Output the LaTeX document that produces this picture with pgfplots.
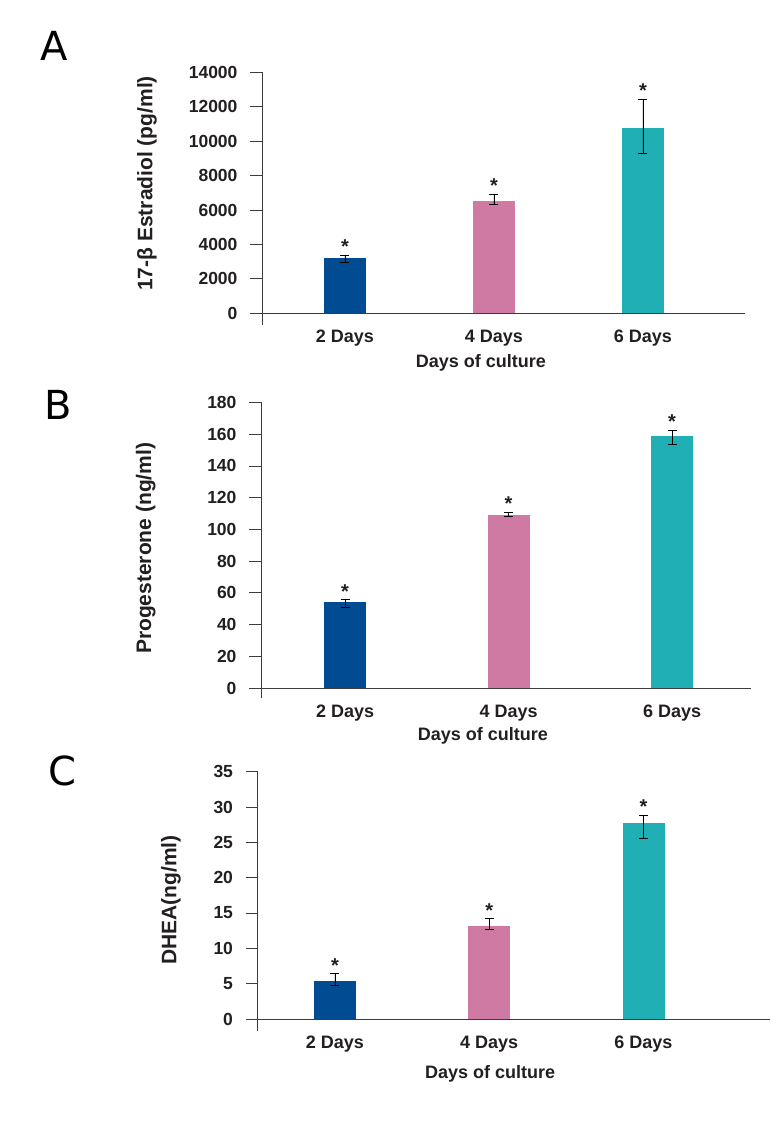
\documentclass[border=0pt]{standalone}
\usepackage{fontspec}
\setmainfont{Liberation Sans}
\newfontfamily\letterfont{DejaVu Sans}
\usepackage{pgfplots}
\pgfplotsset{compat=1.18}
\definecolor{cblue}{RGB}{0,75,145}
\definecolor{cpink}{RGB}{206,122,163}
\definecolor{cteal}{RGB}{31,175,181}
\definecolor{txt}{RGB}{35,31,32}
\definecolor{axl}{RGB}{60,60,60}

\pgfplotsset{
 panel/.style={
  scale only axis, anchor=south west,
  axis x line*=bottom, axis y line*=left,
  axis line style={-, line width=0.8pt, draw=axl},
  tick align=outside, major tick length=12pt,
  ytick style={line width=0.8pt, draw=axl},
  xtick style={draw=none},
  xtick={1,2,3}, xticklabels={2 Days,4 Days,6 Days},
  ymin=0,
  /pgf/number format/assume math mode=true,
  /pgf/number format/1000 sep={},
  scaled y ticks=false,
  yticklabel style={font=\fontsize{17.5}{17.5}\selectfont\bfseries, text=txt, xshift=-9pt},
  xticklabel style={font=\fontsize{18}{18}\selectfont\bfseries, text=txt, anchor=base, yshift=-17.5pt},
  ylabel style={font=\fontsize{21}{21}\selectfont\bfseries, text=txt, anchor=center},
  xlabel style={font=\fontsize{18}{18}\selectfont\bfseries, text=txt, anchor=base},
  xlabel={Days of culture},
  clip=false,
 },
 bar/.style={ybar, bar width=42pt, bar shift=0pt, draw=none, fill=#1,
  error bars/.cd, y dir=both, y explicit,
  error mark options={rotate=90, mark size=4.5pt, line width=0.8pt, black},
  error bar style={line width=0.8pt, black}},
 star/.style={draw=none, mark=none, nodes near coords={*},
  every node near coord/.append style={font=\fontsize{20}{20}\selectfont\bfseries, text=txt, anchor=center, yshift=8.5pt}},
}

\begin{document}
\begin{tikzpicture}
\useasboundingbox (0,0) rectangle (771pt,1139pt);

% Panel A
\begin{axis}[panel, at={(262pt,825.7pt)}, width=483pt, height=241pt,
  xmin=0.443, xmax=3.685, ymax=14000, ytick={0,2000,...,14000},
  ylabel={17-β Estradiol (pg/ml)},
  ylabel style={at={(axis description cs:-0.238,0.539)}},
  xlabel style={at={(axis description cs:0.453,-0.227)}}]
\addplot[bar=cblue] coordinates {(1,3200) += (0,170) -= (0,230)};
\addplot[bar=cpink] coordinates {(2,6520) += (0,390) -= (0,190)};
\addplot[bar=cteal] coordinates {(3,10750) += (0,1680) -= (0,1480)};
\addplot[star] coordinates {(1,3370) (2,6910) (3,12430)};
\draw[line width=0.8pt, axl] (rel axis cs:0,0) -- ++(0pt,-12pt);
\end{axis}

% Panel B
\begin{axis}[panel, at={(261pt,451pt)}, width=490pt, height=285.5pt,
  xmin=0.486, xmax=3.483, ymax=180, ytick={0,20,...,180},
  ylabel={Progesterone (ng/ml)},
  ylabel style={at={(axis description cs:-0.235,0.489)}},
  xlabel style={at={(axis description cs:0.453,-0.1856)}}]
\addplot[bar=cblue] coordinates {(1,54) += (0,1.7) -= (0,3.2)};
\addplot[bar=cpink] coordinates {(2,109) += (0,1.7) -= (0,1.0)};
\addplot[bar=cteal] coordinates {(3,159) += (0,3.6) -= (0,5.2)};
\addplot[star] coordinates {(1,55.7) (2,110.7) (3,162.6)};
\draw[line width=0.8pt, axl] (rel axis cs:0,0) -- ++(0pt,-10pt);
\end{axis}

% Panel C
\begin{axis}[panel, at={(257.5pt,120pt)}, width=512.5pt, height=247.3pt,
  xmin=0.498, xmax=3.82, ymax=35, ytick={0,5,...,35},
  ylabel={DHEA(ng/ml)},
  ylabel style={at={(axis description cs:-0.169,0.481)}},
  xlabel style={at={(axis description cs:0.4537,-0.240)}}]
\addplot[bar=cblue] coordinates {(1,5.4) += (0,1.0) -= (0,0.7)};
\addplot[bar=cpink] coordinates {(2,13.2) += (0,1.0) -= (0,0.5)};
\addplot[bar=cteal] coordinates {(3,27.8) += (0,1.0) -= (0,2.3)};
\addplot[star] coordinates {(1,6.4) (2,14.2) (3,28.8)};
\draw[line width=0.8pt, axl] (rel axis cs:0,0) -- ++(0pt,-12pt);
\end{axis}

\node[font=\letterfont\fontsize{40}{40}\selectfont, text=black, anchor=center] at (54.5pt,1093pt) {A};
\node[font=\letterfont\fontsize{40}{40}\selectfont, text=black, anchor=center] at (58pt,734pt) {B};
\node[font=\letterfont\fontsize{40}{40}\selectfont, text=black, anchor=center] at (62pt,368pt) {C};
\end{tikzpicture}
\end{document}
